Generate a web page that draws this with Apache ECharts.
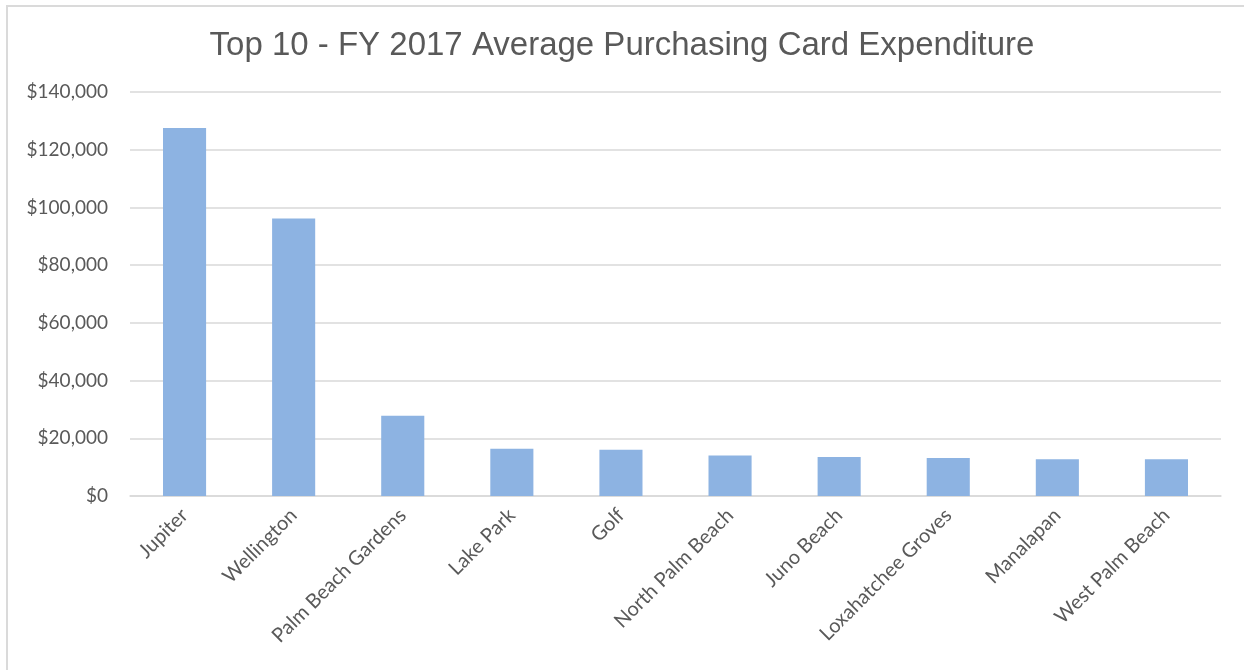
<!DOCTYPE html>
<html>
<head>
<meta charset="utf-8">
<script src="https://cdn.jsdelivr.net/npm/echarts@6/dist/echarts.min.js"></script>
<style>
html,body{margin:0;padding:0;background:#fff;}
#chart{width:1244px;height:670px;}
#frame{position:absolute;left:6px;top:5px;width:1260px;height:700px;border-left:2px solid #dadada;border-top:2px solid #dadada;pointer-events:none;}
</style>
</head>
<body>
<div id="chart"></div>
<div id="frame"></div>
<script>
const categories = ["Jupiter","Wellington","Palm Beach Gardens","Lake Park","Golf","North Palm Beach","Juno Beach","Loxahatchee Groves","Manalapan","West Palm Beach"];
const values = [127500, 96200, 27800, 16400, 16000, 14000, 13500, 13200, 12700, 12700];
const titleText = "Top 10 - FY 2017 Average Purchasing Card Expenditure";

const chart = echarts.init(document.getElementById('chart'));
chart.setOption({
  animation: false,
  title: {
    text: titleText,
    left: 'center',
    top: 24,
    textStyle: {fontFamily: 'Liberation Sans', fontSize: 33, fontWeight: 'normal', color: '#595959'}
  },
  grid: {left: 130, right: 23, top: 92, bottom: 174, containLabel: false},
  xAxis: {
    type: 'category',
    data: categories,
    axisLine: {lineStyle: {color: '#d9d9d9', width: 1.5}},
    axisTick: {show: false},
    axisLabel: {rotate: 45, margin: 16, color: '#595959', fontFamily: 'Lato', fontSize: 20, interval: 0}
  },
  yAxis: {
    type: 'value',
    min: 0, max: 140000, interval: 20000,
    axisLine: {show: false},
    axisTick: {show: false},
    splitLine: {lineStyle: {color: '#d9d9d9', width: 1.5}},
    axisLabel: {
      margin: 22, color: '#595959', fontFamily: 'Lato', fontSize: 19,
      formatter: v => '$' + v.toLocaleString('en-US')
    }
  },
  series: [{
    type: 'bar',
    data: values,
    barWidth: '39.5%',
    itemStyle: {color: '#8DB3E2'}
  }]
});
</script>
</body>
</html>
